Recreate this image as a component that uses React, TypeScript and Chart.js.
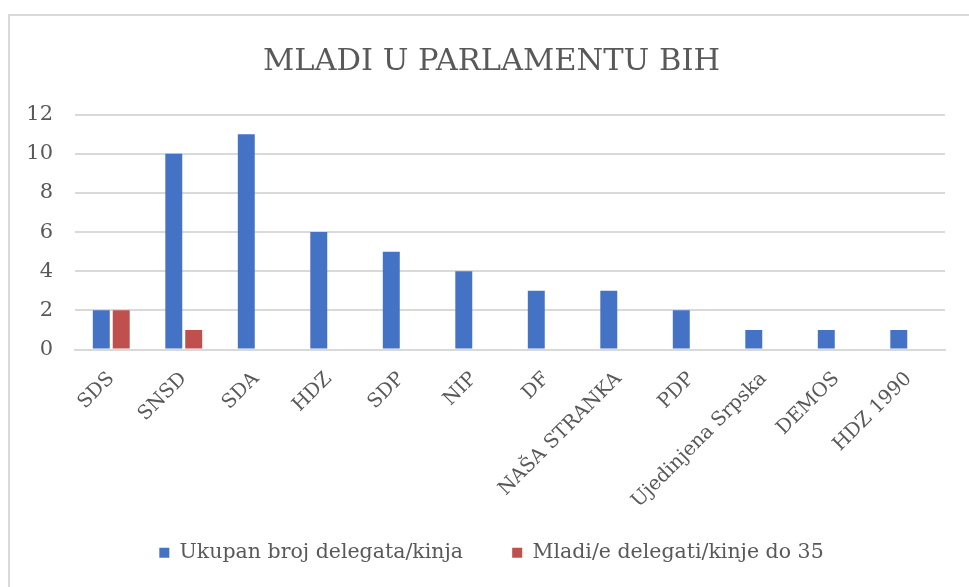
import React, { useEffect, useRef } from "react";
import { Chart, registerables } from "chart.js";

Chart.register(...registerables);

const categories = ["SDS", "SNSD", "SDA", "HDZ", "SDP", "NIP", "DF", "NAŠA STRANKA", "PDP", "Ujedinjena Srpska", "DEMOS", "HDZ 1990"];
const ukupan = [2, 10, 11, 6, 5, 4, 3, 3, 2, 1, 1, 1];
const mladi = [2, 1, 0, 0, 0, 0, 0, 0, 0, 0, 0, 0];
const seriesNames = ["Ukupan broj delegata/kinja", "Mladi/e delegati/kinje do 35"];
const titleText = "MLADI U PARLAMENTU BIH";

const FONT = "'DejaVu Serif', 'Liberation Serif', serif";
const TEXT = "#595959";
const GRID = "#d9d9d9";

export default function App() {
  const ref = useRef<HTMLCanvasElement | null>(null);
  useEffect(() => {
    if (!ref.current) return;
    const chart = new Chart(ref.current, {
      type: "bar",
      data: {
        labels: categories,
        datasets: [
          { label: seriesNames[0], data: ukupan, backgroundColor: "#4472C4", categoryPercentage: 0.55, barPercentage: 0.85 },
          { label: seriesNames[1], data: mladi, backgroundColor: "#C0504D", categoryPercentage: 0.55, barPercentage: 0.85 },
        ],
      },
      options: {
        animation: false,
        responsive: false,
        maintainAspectRatio: false,
        layout: { padding: { left: 0, right: 12, top: 0, bottom: 14 } },
        plugins: {
          title: {
            display: true,
            text: titleText,
            color: TEXT,
            font: { family: FONT, size: 30.5, weight: "normal" },
            padding: { top: 28, bottom: 34 },
          },
          legend: {
            position: "bottom",
            labels: {
              color: TEXT,
              font: { family: FONT, size: 20.5 },
              boxWidth: 10,
              boxHeight: 10,
              padding: 10,
              generateLabels: (c: any) => {
                const items = (Chart.defaults.plugins.legend.labels as any).generateLabels(c);
                return items.map((it: any, i: number) =>
                  i < items.length - 1 ? { ...it, text: it.text + "      " } : it
                );
              },
            },
          },
          tooltip: { enabled: false },
        },
        scales: {
          x: {
            grid: { display: false },
            border: { color: GRID, width: 2 },
            ticks: {
              color: TEXT,
              font: { family: FONT, size: 19.5 },
              minRotation: 45,
              maxRotation: 45,
              autoSkip: false,
              padding: 10,
            },
            afterFit: (s: any) => { s.height = 183; },
          },
          y: {
            min: 0,
            max: 12,
            ticks: { stepSize: 2, color: TEXT, font: { family: FONT, size: 21 }, padding: 22 },
            grid: { color: GRID, lineWidth: 2, drawTicks: false },
            border: { display: false },
            afterFit: (s: any) => { s.width = 65; },
          },
          y2: {
            type: "linear",
            position: "right",
            display: true,
            ticks: { display: false },
            grid: { display: false, drawTicks: false },
            border: { display: false },
            afterFit: (s: any) => { s.width = 28; },
          },
        },
      },
    });
    return () => chart.destroy();
  }, []);
  return (
    <div style={{ position: "fixed", left: 0, top: 0, width: 969, height: 587, overflow: "hidden", background: "#fff" }}>
      <div style={{ position: "absolute", left: 8, top: 14, width: 1000, height: 600, borderLeft: "2px solid #d9d9d9", borderTop: "2px solid #d9d9d9" }}>
        <canvas ref={ref} width={975} height={571} />
      </div>
    </div>
  );
}
